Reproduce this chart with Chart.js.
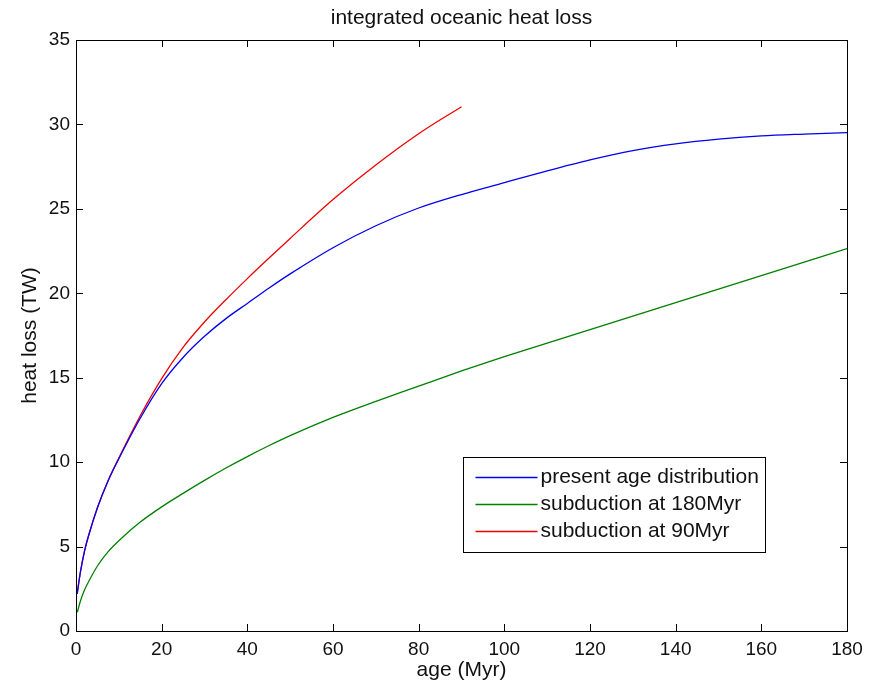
<!DOCTYPE html>
<html>
<head>
<meta charset="utf-8">
<script src="https://cdn.jsdelivr.net/npm/chart.js@4.4.1/dist/chart.umd.min.js"></script>
<style>
  body { margin: 0; background: #fff; }
  #wrap { width: 877px; height: 687px; }
</style>
</head>
<body>
<div id="wrap"><canvas id="heatChart" width="877" height="687"></canvas></div>
<script>
/* #region  DATA */
const ages = [0.3, 1, 2, 3, 5, 7.5, 10, 15, 20, 25, 30, 35, 40, 45, 50, 60, 70, 80, 90,
  100, 110, 120, 130, 140, 150, 160, 170, 180];

// present age distribution
const presentLoss = [2.2, 3.45, 4.75, 5.7, 7.3, 8.9, 10.2, 12.6, 14.65, 16.2, 17.45, 18.5, 19.4,
  20.3, 21.15, 22.7, 24.0, 25.05, 25.85, 26.55, 27.25, 27.9, 28.45, 28.85, 29.13, 29.32, 29.43, 29.52];

// subduction at 180Myr
const sub180Loss = [1.1, 1.75, 2.45, 2.95, 3.85, 4.7, 5.35, 6.45, 7.35, 8.15, 8.92, 9.65, 10.33,
  10.97, 11.57, 12.65, 13.6, 14.5, 15.4, 16.25, 17.05, 17.85, 18.65, 19.45, 20.25, 21.05, 21.85, 22.65];

// subduction at 90Myr (stops at 90)
const sub90Loss = [2.3, 3.45, 4.75, 5.7, 7.3, 8.9, 10.25, 12.75, 14.95, 16.8, 18.3, 19.62, 20.87,
  22.07, 23.25, 25.55, 27.6, 29.45, 31.05];

const xTicks = [0, 20, 40, 60, 80, 100, 120, 140, 160, 180];
const yTicks = [0, 5, 10, 15, 20, 25, 30, 35];

const chartTitle = "integrated oceanic heat loss";
const seriesNames = ["present age distribution", "subduction at 180Myr", "subduction at 90Myr"];
const seriesColors = ["#0000f0", "#008000", "#f00000"];
/* #endregion */

const toPoints = (vals) => vals.map((v, i) => ({ x: ages[i], y: v }));
const textFont = "21px 'Liberation Sans', Arial, sans-serif";

/* #region  PLUGINS */
// matlab style box with inward ticks + title centred on the axes
const boxTicks = {
  id: "boxTicks",
  afterDraw(chart) {
    const { ctx, chartArea: a, scales } = chart;
    const len = 7;
    ctx.save();
    ctx.strokeStyle = "#000";
    ctx.lineWidth = 1;
    ctx.strokeRect(a.left + 0.5, a.top + 0.5, a.right - a.left, a.bottom - a.top);
    ctx.beginPath();
    xTicks.forEach((t) => {
      const px = Math.round(scales.x.getPixelForValue(t)) + 0.5;
      ctx.moveTo(px, a.bottom);
      ctx.lineTo(px, a.bottom - len);
      ctx.moveTo(px, a.top);
      ctx.lineTo(px, a.top + len);
    });
    yTicks.forEach((t) => {
      const py = Math.round(scales.y.getPixelForValue(t)) + 0.5;
      ctx.moveTo(a.left, py);
      ctx.lineTo(a.left + len, py);
      ctx.moveTo(a.right, py);
      ctx.lineTo(a.right - len, py);
    });
    ctx.stroke();

    ctx.fillStyle = "#111";
    ctx.font = textFont;
    ctx.textAlign = "center";
    ctx.textBaseline = "middle";
    ctx.fillText(chartTitle, (a.left + a.right) / 2, a.top - 22);
    ctx.restore();
  },
};

// legend box inside the axes, lower right
const boxLegend = {
  id: "boxLegend",
  afterDraw(chart) {
    const { ctx, chartArea: a } = chart;
    const w = a.right - a.left;
    const h = a.bottom - a.top;
    const bx = Math.round(a.left + 0.502 * w) + 0.5;
    const by = Math.round(a.top + 0.706 * h) + 0.5;
    const bw = 302;
    const bh = 95;
    ctx.save();
    ctx.fillStyle = "#fff";
    ctx.fillRect(bx, by, bw, bh);
    ctx.strokeStyle = "#000";
    ctx.lineWidth = 1;
    ctx.strokeRect(bx, by, bw, bh);
    ctx.font = textFont;
    ctx.textBaseline = "middle";
    seriesNames.forEach((name, i) => {
      const ry = by + 20 + i * 27;
      ctx.strokeStyle = seriesColors[i];
      ctx.lineWidth = 1.3;
      ctx.beginPath();
      ctx.moveTo(bx + 12, ry);
      ctx.lineTo(bx + 74, ry);
      ctx.stroke();
      ctx.fillStyle = "#111";
      ctx.fillText(name, bx + 77, ry);
    });
    ctx.restore();
  },
};
/* #endregion */

/* #region  CHART */
let heatChart = document.getElementById("heatChart").getContext("2d");

Chart.defaults.font.family = "'Liberation Sans', Arial, sans-serif";
Chart.defaults.color = "#111";

let heatChartCanvas = new Chart(heatChart, {
  type: "line",
  data: {
    datasets: [
      { label: seriesNames[0], data: toPoints(presentLoss), borderColor: seriesColors[0] },
      { label: seriesNames[1], data: toPoints(sub180Loss), borderColor: seriesColors[1] },
      { label: seriesNames[2], data: toPoints(sub90Loss), borderColor: seriesColors[2] },
    ].map((d) => ({
      ...d,
      borderWidth: 1.3,
      pointRadius: 0,
      fill: false,
      cubicInterpolationMode: "monotone",
    })),
  },
  options: {
    responsive: false,
    animation: false,
    layout: { padding: { left: 0, right: 30, top: 40, bottom: 0 } },
    plugins: {
      legend: { display: false },
      tooltip: { enabled: false },
      title: { display: false },
    },
    scales: {
      x: {
        type: "linear",
        min: 0,
        max: 180,
        afterFit: (s) => { s.height = 56; },
        afterBuildTicks: (s) => { s.ticks = xTicks.map((v) => ({ value: v })); },
        grid: { display: false, drawTicks: false },
        border: { display: false },
        ticks: { font: { size: 19 }, padding: 7, color: "#111", maxRotation: 0 },
        title: {
          display: true,
          text: "age (Myr)",
          color: "#111",
          font: { size: 21 },
          padding: { top: 0, bottom: 4 },
        },
      },
      y: {
        type: "linear",
        min: 0,
        max: 35,
        afterFit: (s) => { s.width = 76; },
        afterBuildTicks: (s) => { s.ticks = yTicks.map((v) => ({ value: v })); },
        grid: { display: false, drawTicks: false },
        border: { display: false },
        ticks: { font: { size: 19 }, padding: 6, color: "#111" },
        title: {
          display: true,
          text: "heat loss (TW)",
          color: "#111",
          font: { size: 21 },
          padding: { top: 18, bottom: 0 },
        },
      },
    },
  },
  plugins: [boxTicks, boxLegend],
});
/* #endregion */
</script>
</body>
</html>
